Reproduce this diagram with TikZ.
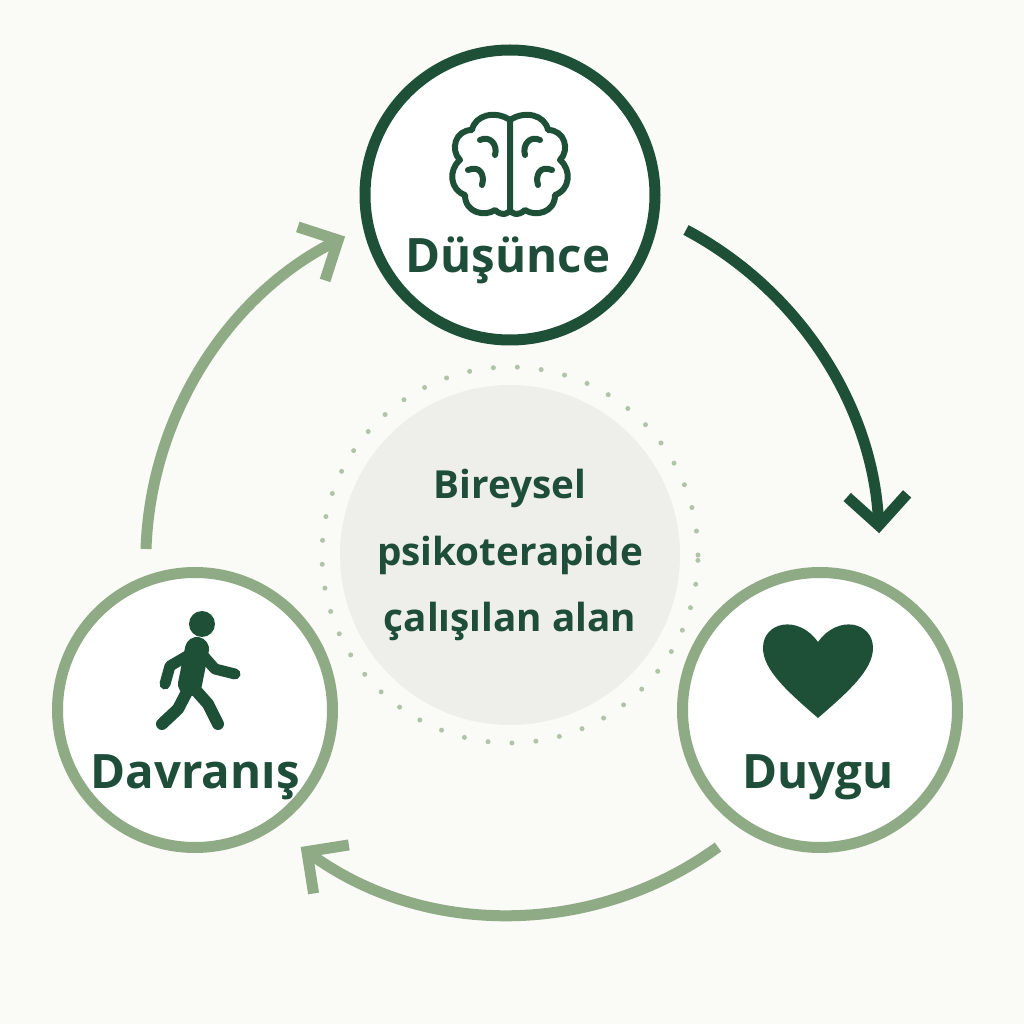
\documentclass[tikz,border=0pt]{standalone}
\usepackage{fontspec}
\setmainfont{Open Sans}
\usetikzlibrary{arrows.meta}
\definecolor{darkgreen}{HTML}{1E5038}
\definecolor{lightgreen}{HTML}{8FAB86}
\definecolor{textgreen}{HTML}{1E4D3A}
\definecolor{paper}{HTML}{FAFAF6}
\definecolor{centerfill}{HTML}{EEEEEA}
\tikzset{
  station/.style={circle, minimum size=2.75cm, fill=white!97!paper, line width=1.1mm},
  label/.style={font=\bfseries\fontsize{13.5}{16}\selectfont, text=textgreen},
  cycle/.style={line width=1.1mm, -{Straight Barb[length=3mm,width=6mm,line width=1.1mm]}}
}
\begin{document}
\begin{tikzpicture}
	% Background
	\fill[paper] (0,0) rectangle (10.24,10.24);
	\useasboundingbox (0,0) rectangle (10.24,10.24);

	% Center area
	\fill[centerfill] (5.1,4.69) circle [radius=1.7cm];
	\draw[lightgreen!70, line width=0.5mm, dash pattern=on 0pt off 2.4mm, line cap=round] (5.1,4.69) circle [radius=1.88cm];
	\node[font=\bfseries\fontsize{11}{19}\selectfont, text=textgreen, align=center] (area) at (5.1,4.69) {Bireysel\\psikoterapide\\çalışılan alan};

	% Stations
	\node[station, draw=darkgreen, minimum size=2.9cm] (think) at (5.1,8.29) {};
	\node[station, draw=lightgreen] (feel) at (8.2,3.14) {};
	\node[station, draw=lightgreen] (act) at (1.95,3.14) {};

	\node[label] (thinklabel) at (5.08,7.64) {Düşünce};
	\node[label] (feellabel) at (8.18,2.47) {Duygu};
	\node[label] (actlabel) at (1.95,2.47) {Davranış};

	% Brain icon
	\begin{scope}[shift={(5.1,8.59)}, draw=darkgreen, line width=0.6mm, line cap=round, line join=round]
		\draw (0,0.45) .. controls (-0.15,0.55) and (-0.35,0.5) .. (-0.38,0.35)
		  .. controls (-0.55,0.35) and (-0.6,0.15) .. (-0.5,0.05)
		  .. controls (-0.62,-0.05) and (-0.6,-0.25) .. (-0.45,-0.3)
		  .. controls (-0.45,-0.48) and (-0.25,-0.52) .. (-0.15,-0.45)
		  .. controls (-0.08,-0.52) and (0,-0.48) .. (0,-0.45) -- cycle;
		\draw (0,0.45) .. controls (0.15,0.55) and (0.35,0.5) .. (0.38,0.35)
		  .. controls (0.55,0.35) and (0.6,0.15) .. (0.5,0.05)
		  .. controls (0.62,-0.05) and (0.6,-0.25) .. (0.45,-0.3)
		  .. controls (0.45,-0.48) and (0.25,-0.52) .. (0.15,-0.45)
		  .. controls (0.08,-0.52) and (0,-0.48) .. (0,-0.45);
		\draw (-0.3,0.25) .. controls (-0.2,0.3) and (-0.12,0.2) .. (-0.15,0.1);
		\draw (-0.42,-0.05) .. controls (-0.3,0) and (-0.25,-0.1) .. (-0.28,-0.2);
		\draw (0.3,0.25) .. controls (0.2,0.3) and (0.12,0.2) .. (0.15,0.1);
		\draw (0.42,-0.05) .. controls (0.3,0) and (0.25,-0.1) .. (0.28,-0.2);
	\end{scope}

	% Heart icon
	\fill[darkgreen, shift={(8.18,3.52)}] (0,-0.46) .. controls (-0.3,-0.2) and (-0.55,0.02) .. (-0.55,0.24)
	  .. controls (-0.55,0.5) and (-0.2,0.58) .. (0,0.3)
	  .. controls (0.2,0.58) and (0.55,0.5) .. (0.55,0.24)
	  .. controls (0.55,0.02) and (0.3,-0.2) .. (0,-0.46);

	% Walker icon
	\begin{scope}[shift={(2,3.5)}, darkgreen, line cap=round, line join=round]
		\fill (0.02,0.5) circle [radius=0.13];
		\draw[line width=2.4mm] (-0.03,0.25) -- (-0.1,-0.1);
		\draw[line width=1.1mm] (-0.06,0.22) -- (-0.3,0.08) -- (-0.35,-0.1);
		\draw[line width=1.1mm] (0.0,0.22) -- (0.15,0.05) -- (0.35,0);
		\draw[line width=1.2mm] (-0.1,-0.12) -- (-0.22,-0.35) -- (-0.38,-0.5);
		\draw[line width=1.2mm] (-0.08,-0.12) -- (0.08,-0.3) -- (0.18,-0.5);
	\end{scope}

	% Cycle arrows
	\draw[cycle, darkgreen] (6.86,7.94) arc [start angle=62, end angle=3, radius=3.65cm];
	\draw[cycle, lightgreen] (7.18,1.77) arc [start angle=-54, end angle=-126, radius=3.55cm];
	\draw[cycle, lightgreen] (1.46,4.75) arc [start angle=178, end angle=117, radius=3.65cm];
\end{tikzpicture}
\end{document}
